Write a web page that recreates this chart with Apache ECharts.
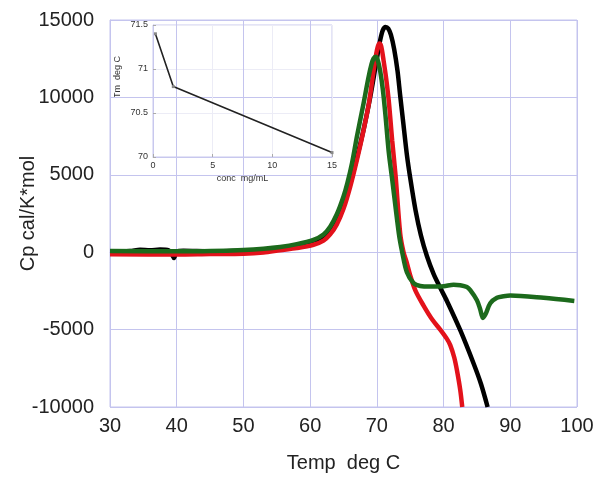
<!DOCTYPE html>
<html>
<head>
<meta charset="utf-8">
<script src="https://cdn.jsdelivr.net/npm/echarts@6/dist/echarts.min.js"></script>
<style>
html,body{margin:0;padding:0;background:#fff;}
#c{width:604px;height:484px;}
</style>
</head>
<body>
<div id="c"></div>
<script>
// Main chart data: [Temp (deg C), Cp (cal/K*mol)]
var blackData = [[30,60],[33,80],[34.5,160],[36,130],[37.5,170],[38.8,120],[39.3,-150],[39.6,-380],[40,60],[41,90],[45,60],[50,100],[53,150],[55.5,220],[58,380],[60.5,620],[62,950],[63,1400],[64,2050],[65,3050],[66,4400],[67,6100],[68,7900],[69,10000],[70,12500],[70.5,13700],[70.9,14350],[71.3,14550],[71.7,14450],[72.1,14050],[72.6,13100],[73.1,11700],[73.5,10100],[74.0,8200],[74.5,6300],[75.0,4800],[75.8,2700],[76.6,1100],[77.5,-250],[78.5,-1400],[79.5,-2300],[80.5,-3150],[82.5,-5040],[84.5,-7190],[85.6,-8500],[86.6,-10000]];
var redData = [[30,-130],[40,-150],[45,-120],[50,-100],[53,-20],[55.5,130],[58,270],[60.5,480],[62,750],[63,1150],[64,1800],[65,2800],[66,4220],[67,5940],[67.8,7450],[68.8,9600],[69.5,11700],[69.9,12800],[70.15,13300],[70.4,13480],[70.65,13300],[71.0,12400],[71.4,11200],[71.8,9700],[72.3,7200],[72.8,4970],[73.5,1200],[74.0,0],[74.5,-700],[75.0,-1500],[75.8,-2500],[77.0,-3450],[78.3,-4350],[79.5,-5000],[80.5,-5600],[81.0,-6000],[81.6,-6800],[82.0,-7620],[82.5,-8900],[82.8,-10000]];
var greenData = [[30,80],[40,60],[45,80],[50,150],[53,230],[55.5,340],[58,520],[60.5,800],[62,1150],[63,1650],[64,2450],[65,3600],[65.6,4500],[66.3,5800],[67,7450],[68,9600],[68.7,11200],[69.2,12150],[69.5,12500],[69.8,12620],[70.1,12450],[70.5,11700],[70.9,10500],[71.3,8800],[71.8,6400],[72.3,4700],[73.3,1200],[73.8,0],[74.5,-1300],[75.5,-2000],[76.5,-2180],[78,-2220],[80,-2200],[81.5,-2100],[82.5,-2130],[83.5,-2250],[84,-2450],[85,-3100],[85.5,-3700],[85.9,-4250],[86.3,-4000],[87,-3300],[88,-2950],[89,-2850],[90,-2800],[95,-2950],[99.6,-3150]];

// Inset data: concentration (mg/mL) vs Tm (deg C)
var insetConc = [0.2, 1.7, 15];
var insetTm = [71.4, 70.8, 70.05];

var xTicks = [30, 100, 10];
var yTicks = [-10000, 15000, 5000];

var chart = echarts.init(document.getElementById('c'), null, {renderer:'canvas'});
var gridCol = '#c4c4ee';
var font = 'Liberation Sans, Arial, sans-serif';

chart.setOption({
  animation: false,
  backgroundColor: '#fff',
  grid: [
    {left:110, right:27, top:20, bottom:77, show:true, borderColor:gridCol, borderWidth:1, containLabel:false},
    {left:153, right:272, top:25, bottom:327, show:true, borderColor:'#c8c8ee', borderWidth:1, containLabel:false}
  ],
  xAxis: [
    {gridIndex:0, type:'value', min:xTicks[0], max:xTicks[1], interval:xTicks[2],
     name:'Temp  deg C', nameLocation:'middle', nameGap:46, nameMoveOverlap:false,
     nameTextStyle:{fontFamily:font, fontSize:20, color:'#222'},
     axisLine:{lineStyle:{color:gridCol}}, axisTick:{show:false},
     axisLabel:{fontFamily:font, fontSize:20, color:'#222', margin:9},
     splitLine:{lineStyle:{color:gridCol, width:1}}},
    {gridIndex:1, type:'value', min:0, max:15, interval:5,
     name:'conc  mg/mL', nameLocation:'middle', nameGap:17, nameMoveOverlap:false,
     nameTextStyle:{fontFamily:font, fontSize:9, color:'#333'},
     axisLine:{lineStyle:{color:'#c8c8ee'}}, axisTick:{show:true, inside:true, length:3, lineStyle:{color:'#aaa'}},
     axisLabel:{fontFamily:font, fontSize:9, color:'#333', margin:4},
     splitLine:{lineStyle:{color:'#ececf6', width:1}}}
  ],
  yAxis: [
    {gridIndex:0, type:'value', min:yTicks[0], max:yTicks[1], interval:yTicks[2],
     name:'Cp cal/K*mol', nameLocation:'middle', nameGap:72, nameMoveOverlap:false,
     nameTextStyle:{fontFamily:font, fontSize:20, color:'#222'},
     axisLine:{lineStyle:{color:gridCol}}, axisTick:{show:false},
     axisLabel:{fontFamily:font, fontSize:20, color:'#222', margin:16,
       formatter:function(v){return String(v);}},
     splitLine:{lineStyle:{color:gridCol, width:1}}},
    {gridIndex:1, type:'value', min:70, max:71.5, interval:0.5,
     axisLine:{lineStyle:{color:'#c8c8ee'}}, axisTick:{show:true, inside:true, length:3, lineStyle:{color:'#aaa'}},
     axisLabel:{fontFamily:font, fontSize:9, color:'#333', margin:5},
     splitLine:{lineStyle:{color:'#ececf6', width:1}}}
  ],
  graphic: [
    {type:'text', x:118, y:77, rotation:Math.PI/2,
     style:{text:'Tm  deg C', fontFamily:font, fontSize:9, fill:'#333', align:'center', verticalAlign:'middle'}}
  ],
  series: [
    {type:'line', xAxisIndex:0, yAxisIndex:0, data:blackData, smooth:0.3, showSymbol:false,
     lineStyle:{color:'#000', width:4.5}, z:2},
    {type:'line', xAxisIndex:0, yAxisIndex:0, data:redData, smooth:0.3, showSymbol:false,
     lineStyle:{color:'#e3121b', width:4.5}, z:3},
    {type:'line', xAxisIndex:0, yAxisIndex:0, data:greenData, smooth:0.3, showSymbol:false,
     lineStyle:{color:'#1c6a1c', width:4.5}, z:4},
    {type:'line', xAxisIndex:1, yAxisIndex:1,
     data:insetConc.map(function(c,i){return [c, insetTm[i]];}),
     symbol:'rect', symbolSize:3, itemStyle:{color:'#888'},
     lineStyle:{color:'#222', width:1.6}, z:5}
  ]
});
</script>
</body>
</html>
